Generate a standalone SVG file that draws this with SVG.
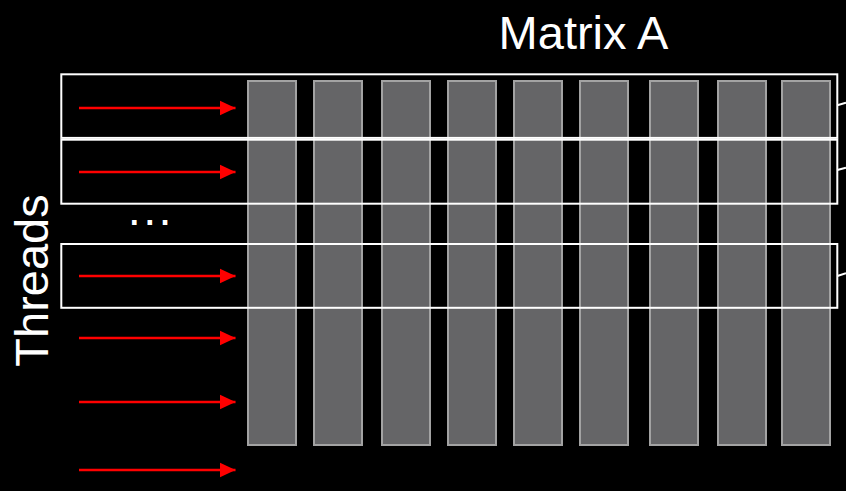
<svg xmlns="http://www.w3.org/2000/svg" width="846" height="491" viewBox="0 0 846 491">
<style>
.lbl{font-family:"Liberation Sans",Arial,sans-serif;fill:#ffffff;font-size:47px}
.col{fill:#656567;stroke:#a3a3a3;stroke-width:2}
.box{fill:none;stroke:#ffffff;stroke-width:2}
.arr{stroke:#ff0000;stroke-width:2.5;fill:none}
.tick{stroke:#ffffff;stroke-width:2;fill:none}
</style>
<defs>
<marker id="ah" markerUnits="userSpaceOnUse" markerWidth="16" markerHeight="16" viewBox="0 0 16 16" refX="16" refY="8" orient="auto">
<path d="M0,0.5 L16,8 L0,15.5 Z" fill="#ff0000"/>
</marker>
</defs>
<rect x="0" y="0" width="846" height="491" fill="#000000"/>
<g id="title"><text class="lbl" x="583.5" y="49" text-anchor="middle" font-size="46">Matrix A</text></g>
<g id="threads-label"><text class="lbl" transform="translate(47.5,280.5) rotate(-90)" text-anchor="middle">Threads</text></g>
<g id="ellipsis"><text class="lbl" x="127.8" y="224.5" font-size="48" letter-spacing="2.3">...</text></g>
<g id="columns">
<rect id="col1" class="col" x="248" y="81" width="48" height="364"/>
<rect id="col2" class="col" x="314" y="81" width="48" height="364"/>
<rect id="col3" class="col" x="382" y="81" width="48" height="364"/>
<rect id="col4" class="col" x="448" y="81" width="48" height="364"/>
<rect id="col5" class="col" x="514" y="81" width="48" height="364"/>
<rect id="col6" class="col" x="580" y="81" width="48" height="364"/>
<rect id="col7" class="col" x="650" y="81" width="48" height="364"/>
<rect id="col8" class="col" x="718" y="81" width="48" height="364"/>
<rect id="col9" class="col" x="782" y="81" width="48" height="364"/>
</g>
<g id="box1"><rect class="box" x="61.3" y="74.3" width="776" height="63.6"/></g>
<g id="box2"><rect class="box" x="61.3" y="139.7" width="776" height="64"/></g>
<g id="box3"><rect class="box" x="61.3" y="244" width="776" height="63.8"/></g>
<g id="connectors">
<line class="arr" x1="79" y1="108" x2="235.5" y2="108" marker-end="url(#ah)"/>
<line class="arr" x1="79" y1="172" x2="235.5" y2="172" marker-end="url(#ah)"/>
<line class="arr" x1="79" y1="276" x2="235.5" y2="276" marker-end="url(#ah)"/>
<line class="arr" x1="79" y1="338" x2="235.5" y2="338" marker-end="url(#ah)"/>
<line class="arr" x1="79" y1="402" x2="235.5" y2="402" marker-end="url(#ah)"/>
<line class="arr" x1="79" y1="470" x2="235.5" y2="470" marker-end="url(#ah)"/>
<line class="tick" x1="837.3" y1="105.3" x2="846" y2="102.7"/>
<line class="tick" x1="837.3" y1="170" x2="846" y2="167.6"/>
<line class="tick" x1="837.3" y1="276" x2="846" y2="273.3"/>
</g>
</svg>
